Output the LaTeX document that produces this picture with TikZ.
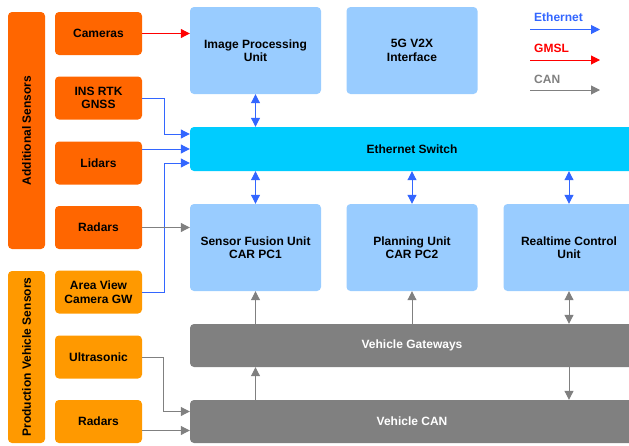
\documentclass[tikz,border=0pt]{standalone}
\usepackage{fontspec}
\setmainfont{Liberation Sans}
\usetikzlibrary{arrows.meta}

\definecolor{addorange}{HTML}{FF6600}
\definecolor{prodorange}{HTML}{FF9900}
\definecolor{unitblue}{HTML}{99CCFF}
\definecolor{switchcyan}{HTML}{00CCFF}
\definecolor{busgray}{HTML}{808080}
\definecolor{ethblue}{HTML}{3366FF}
\definecolor{gmslred}{HTML}{FF0000}

\begin{document}
\begin{tikzpicture}[x=1pt,y=-1pt,
box/.style={rounded corners=4pt, align=center, inner sep=0pt, font=\fontsize{12}{13.5}\selectfont\bfseries},
groupbar/.style={box, rotate=90, minimum height=37pt},
sensor/.style={box, minimum width=87pt, minimum height=43pt},
unit/.style={box, fill=unitblue, minimum width=131pt, minimum height=87pt},
bus/.style={box, minimum width=444pt, minimum height=44pt},
legendlbl/.style={anchor=west, inner sep=0pt, font=\fontsize{12}{13.5}\selectfont\bfseries},
tip/.style={-{Triangle[length=9pt,width=9pt]}, line width=1pt},
eth/.style={tip, draw=ethblue},
ethboth/.style={eth, {Triangle[length=9pt,width=9pt]}-{Triangle[length=9pt,width=9pt]}},
gmsl/.style={tip, draw=gmslred},
can/.style={tip, draw=busgray},
canboth/.style={can, {Triangle[length=9pt,width=9pt]}-{Triangle[length=9pt,width=9pt]}} ]

\useasboundingbox (0,0) rectangle (629,445);
\clip (0,0) rectangle (629,445);

\node[groupbar, fill=addorange, minimum width=237pt] (addsens) at (26.5,130.5) {Additional Sensors};

\node[groupbar, fill=prodorange, minimum width=172pt] (prodsens) at (26.5,357) {Production Vehicle Sensors};

\node[sensor, fill=addorange] (cam) at (98.5,33.5) {Cameras};

\node[sensor, fill=addorange] (ins) at (98.5,98) {INS RTK\\GNSS};

\node[sensor, fill=addorange] (lidar) at (98.5,163) {Lidars};

\node[sensor, fill=addorange] (radarA) at (98.5,227.5) {Radars};

\node[sensor, fill=prodorange] (avcgw) at (98.5,292) {Area View\\Camera GW};

\node[sensor, fill=prodorange] (ultra) at (98.5,357) {Ultrasonic};

\node[sensor, fill=prodorange] (radarB) at (98.5,421.5) {Radars};

\node[unit] (ipu) at (255.5,50.5) {Image Processing\\Unit};

\node[unit] (v2x) at (412,50.5) {5G V2X\\Interface};

\node[bus, fill=switchcyan] (ethsw) at (412,149) {Ethernet Switch};

\node[unit] (sfu) at (255.5,247.5) {Sensor Fusion Unit\\CAR PC1};

\node[unit] (plan) at (412,247.5) {Planning Unit\\CAR PC2};

\node[unit] (rtc) at (569,247.5) {Realtime Control\\Unit};

\node[bus, fill=busgray, text=white, minimum height=43pt] (gw) at (412,345.5) {Vehicle Gateways};

\node[bus, fill=busgray, text=white, minimum height=43pt] (vcan) at (412,421.5) {Vehicle CAN};

\node[legendlbl, text=ethblue] (ethlbl) at (534,17.5) {Ethernet};

\node[legendlbl, text=gmslred] (gmsllbl) at (534,48.5) {GMSL};

\node[legendlbl, text=busgray] (canlbl) at (534,79) {CAN};

\coordinate (ethA) at (530,29.5);
\coordinate (ethB) at (600,29.5);
\coordinate (gmslA) at (530,60);
\coordinate (gmslB) at (600,60);
\coordinate (canA) at (530,90);
\coordinate (canB) at (600,90);

\draw[eth] (ethA) -- (ethB);

\draw[gmsl] (gmslA) -- (gmslB);

\draw[can] (canA) -- (canB);

\draw[gmsl] (cam.east) -- (cam.east -| ipu.west);

\draw[eth] (ins.east) -- ++(22,0) |- ([yshift=15pt]ethsw.west);

\draw[eth] (lidar.east |- ethsw.west) -- (ethsw.west);

\draw[eth] (avcgw.east) -- ++(22,0) |- ([yshift=-14pt]ethsw.west);

\draw[can] (radarA.east) -- (radarA.east -| sfu.west);

\draw[can] (ultra.east) -- ++(21,0) |- ([yshift=10pt]vcan.west);

\draw[can] ([yshift=-9pt]radarB.east) -- ([yshift=-9pt]vcan.west);

\draw[ethboth] (ipu.south) -- (ipu.south |- ethsw.north);

\draw[ethboth] (sfu.north |- ethsw.south) -- (sfu.north);

\draw[ethboth] (plan.north |- ethsw.south) -- (plan.north);

\draw[ethboth] (rtc.north |- ethsw.south) -- (rtc.north);

\draw[can] (gw.north -| sfu) -- (sfu.south);

\draw[can] (gw.north -| plan) -- (plan.south);

\draw[canboth] (gw.north -| rtc) -- (rtc.south);

\draw[can] (vcan.north -| sfu) -- (gw.south -| sfu);

\draw[can] (gw.south -| rtc) -- (vcan.north -| rtc);

\end{tikzpicture}
\end{document}
